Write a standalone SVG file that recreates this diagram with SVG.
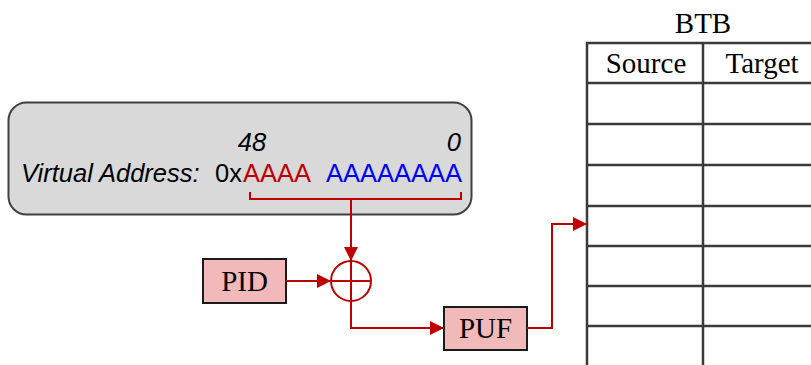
<svg xmlns="http://www.w3.org/2000/svg" width="811" height="365" viewBox="0 0 811 365">
<style>
.sans{font-family:"Liberation Sans",Arial,sans-serif;font-size:25.5px}
.it{font-style:italic}
.serif{font-family:"Liberation Serif","Times New Roman",serif;font-size:29px;fill:#000}
.box{fill:#f1b9b9;stroke:#1a1a1a;stroke-width:2}
.wire{fill:none;stroke:#c00000;stroke-width:2}
.grid{stroke:#3a3a3a;stroke-width:2.5;fill:none}
</style>
<defs>
<marker id="arr" viewBox="0 0 10 10" refX="10" refY="5" markerWidth="14" markerHeight="14" markerUnits="userSpaceOnUse" orient="auto">
<path d="M0,0 L10,5 L0,10 z" fill="#c00000"/>
</marker>
</defs>
<g id="va">
<rect x="8.5" y="102.5" width="463" height="112" rx="18" fill="#d9d9d9" stroke="#404040" stroke-width="2"/>
<text class="sans it" x="252" y="151" text-anchor="middle">48</text>
<text class="sans it" x="461" y="151" text-anchor="end">0</text>
<text class="sans it" x="21" y="182">Virtual Address:</text>
<text class="sans" x="215" y="182" fill="#000">0x</text>
<text class="sans" x="243" y="182" fill="#c00000">AAAA</text>
<text class="sans" x="326" y="182" fill="#0000ff">AAAAAAAA</text>
</g>
<g id="pid">
<rect class="box" x="203" y="259" width="83" height="44"/>
<text class="serif" x="244.5" y="291" text-anchor="middle">PID</text>
</g>
<g id="xor">
<circle cx="351" cy="281" r="20" fill="none" stroke="#c00000" stroke-width="2"/>
<line x1="331" y1="281" x2="371" y2="281" stroke="#c00000" stroke-width="2"/>
<line x1="351" y1="261" x2="351" y2="301" stroke="#c00000" stroke-width="2"/>
</g>
<g id="puf">
<rect class="box" x="444" y="307" width="83" height="43"/>
<text class="serif" x="485.5" y="338" text-anchor="middle">PUF</text>
</g>
<g id="btb">
<text class="serif" x="703" y="33" text-anchor="middle">BTB</text>
<text class="serif" x="646" y="73" text-anchor="middle">Source</text>
<text class="serif" x="762" y="73" text-anchor="middle">Target</text>
<path class="grid" d="M587,365 V43 H811 M703,43 V365 M587,83 H811 M587,124 H811 M587,165 H811 M587,206 H811 M587,246 H811 M587,286 H811 M587,326 H811"/>
</g>
<g id="connectors">
<path class="wire" d="M250,192 V199 H461 V192"/>
<path class="wire" d="M351,199 V261" marker-end="url(#arr)"/>
<path class="wire" d="M286,281 H331" marker-end="url(#arr)"/>
<path class="wire" d="M351,301 V328 H444" marker-end="url(#arr)"/>
<path class="wire" d="M527,328 H552 V224 H587" marker-end="url(#arr)"/>
</g>
</svg>
